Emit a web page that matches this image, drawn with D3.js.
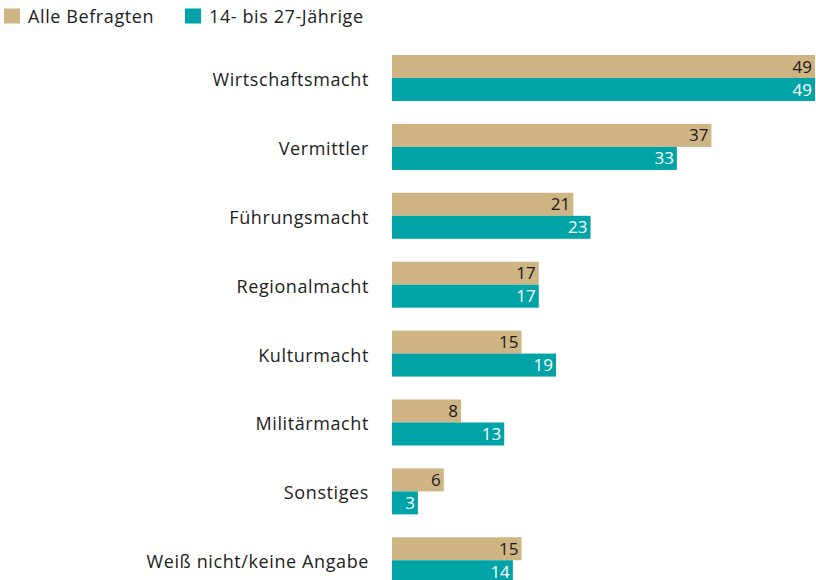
<!DOCTYPE html>
<html><head><meta charset="utf-8">
<script src="https://cdn.jsdelivr.net/npm/d3@7"></script>
<style>body{margin:0;background:#fff}svg{display:block;font-family:"Open Sans",Lato,sans-serif}</style>
</head><body>
<svg id="c" width="816" height="580"></svg>
<script>
const categories = ["Wirtschaftsmacht","Vermittler","Führungsmacht","Regionalmacht","Kulturmacht","Militärmacht","Sonstiges","Weiß nicht/keine Angabe"];
const seriesNames = ["Alle Befragten","14- bis 27-Jährige"];
const alleBefragten = [49,37,21,17,15,8,6,15];
const jung = [49,33,23,17,19,13,3,14];
const colors = ["#CFB484","#00A4A6"];
const labelColors = ["#1a1a1a","#ffffff"];

const svg = d3.select("#c");
const barH = 23;
const y = d3.scaleBand().domain(categories).range([55, 55 + 7*68.9 + 2*barH]).paddingInner(0.332).paddingOuter(0);
const x = d3.scaleLinear().domain([0,49]).range([392,815]);
const series = [alleBefragten, jung];

// legend
const leg = svg.append("g");
const legX = [4, 185];
seriesNames.forEach((n,i)=>{
  leg.append("rect").attr("x",legX[i]).attr("y",8.5).attr("width",16).attr("height",15).attr("fill",colors[i]);
  leg.append("text").attr("x",legX[i]+24).attr("y",23).attr("font-size",18).attr("letter-spacing",0.6).attr("fill","#222").text(n);
});

// category labels
svg.append("g").selectAll("text").data(categories).join("text")
  .attr("x",369).attr("y",d=>y(d)+barH+8).attr("text-anchor","end")
  .attr("font-size",18).attr("letter-spacing",0.6).attr("fill","#222").text(d=>d);

series.forEach((vals,si)=>{
  const g = svg.append("g");
  g.selectAll("rect").data(categories).join("rect")
    .attr("x",x(0)).attr("y",(d)=>y(d)+si*barH)
    .attr("width",(d,i)=>x(vals[i])-x(0)).attr("height",barH)
    .attr("fill",colors[si]);
  g.selectAll("text").data(categories).join("text")
    .attr("x",(d,i)=>x(vals[i])-3).attr("y",(d)=>y(d)+si*barH+barH/2+6)
    .attr("text-anchor","end").attr("font-size",17).attr("fill",labelColors[si])
    .text((d,i)=>vals[i]);
});
</script>
</body></html>
